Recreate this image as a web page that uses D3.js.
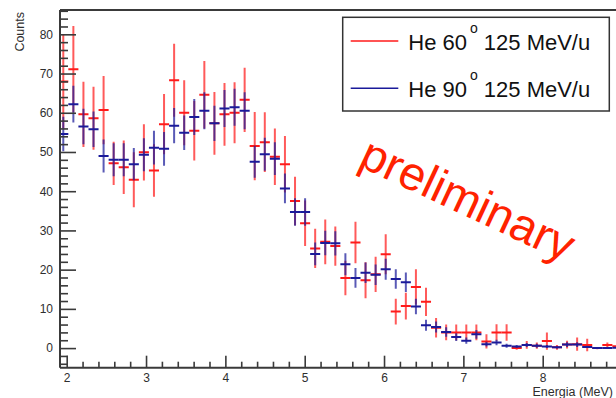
<!DOCTYPE html>
<html>
<head>
<meta charset="utf-8">
<script src="https://cdn.jsdelivr.net/npm/d3@7"></script>
<style>
  html, body { margin: 0; padding: 0; background: #fff; }
  svg { display: block; font-family: "Liberation Sans", Arial, Helvetica, sans-serif; }
</style>
</head>
<body>
<svg id="chart" width="616" height="398"></svg>
<script>
// Bin centres of the energy histogram (MeV)
const energies = [1.957, 2.084, 2.211, 2.338, 2.465, 2.592, 2.719, 2.846, 2.973, 3.100,
  3.227, 3.354, 3.481, 3.608, 3.735, 3.862, 3.989, 4.116, 4.243, 4.370,
  4.497, 4.624, 4.751, 4.878, 5.005, 5.132, 5.259, 5.386, 5.513, 5.640,
  5.767, 5.894, 6.021, 6.148, 6.275, 6.402, 6.529, 6.656, 6.783, 6.910,
  7.037, 7.164, 7.291, 7.418, 7.545, 7.672, 7.799, 7.926, 8.053, 8.180,
  8.307, 8.434, 8.561, 8.688, 8.815, 8.942];
const binWidth = 0.127;

// He 60° 125 MeV/u counts and errors
const counts60 = [68, 71.1, 59.6, 58.6, 60.7, 47.1, 46.1, 42.9, 49.9, 45.3,
  57.1, 68.3, 60.0, 55.4, 64.6, 57.3, 59.6, 60.0, 63.3, 51.5,
  52.5, 48.8, 46.9, 37.5, 31.8, 25.4, 27.1, 26.0, 17.9, 26.9,
  17.3, 18.8, 23.9, 9.3, 10.7, 15.6, 11.8, 5.2, 4.0, 4.0,
  4.0, 4.0, 1.7, 4.0, 4.0, 0.0, 0.8, 0.6, 1.8, 0.2,
  0.9, 1.0, 0.8, 0.0, 0.8, 0.5];
const errors60 = [12, 11, 8.3, 8, 8.7, 5.5, 6.8, 7, 7.2, 6.7,
  7.7, 9.3, 8.3, 7.6, 8.6, 8, 8, 7.8, 8.2, 8.7,
  7.6, 7.2, 7.2, 6.2, 5.8, 5, 5.7, 5, 4.4, 5.3,
  4.6, 4.5, 5.1, 3.3, 3.4, 4.5, 3.6, 2.5, 2, 2,
  2, 2, 1.8, 2.1, 2.1, 0.4, 1, 0.8, 2.2, 0.6,
  1, 1.7, 1.6, 0.3, 0.6, 0.6];

// He 90° 125 MeV/u counts and errors
const counts90 = [54.6, 62.2, 56.5, 55.8, 49.0, 48.0, 48.0, 46.9, 49.3, 51.1,
  50.8, 56.7, 54.9, 58.9, 60.5, 57.3, 61.1, 61.4, 60.5, 47.5,
  49.4, 48.3, 40.7, 34.7, 34.7, 24.0, 26.8, 26.7, 21.4, 17.9,
  19.2, 18.7, 20.1, 17.6, 16.8, 10.6, 5.8, 5.4, 4.1, 2.8,
  1.9, 3.5, 1.0, 1.4, 0.6, 0.4, 0.8, 0.6, 0.4, 0.2,
  0.9, 0.9, 0.3, 0.0, 0.0, 0.1];
const errors90 = [4.4, 4.7, 4.5, 4.5, 4.2, 4.2, 4.2, 4.1, 4.2, 4.3,
  4.3, 4.5, 4.4, 4.6, 4.7, 4.5, 4.7, 4.7, 4.7, 4.1,
  4.2, 4.2, 3.8, 3.5, 3.5, 2.9, 3.1, 3.1, 2.8, 2.5,
  2.6, 2.6, 2.7, 2.5, 2.5, 2.0, 1.4, 1.4, 1.2, 1.0,
  0.8, 1.1, 0.6, 0.7, 0.5, 0.4, 0.5, 0.5, 0.4, 0.3,
  0.6, 0.6, 0.3, 0, 0, 0.2];

const xTicks = [2, 3, 4, 5, 6, 7, 8];
const yTicks = [0, 10, 20, 30, 40, 50, 60, 70, 80];
const seriesNames = ["He 60", "He 90"];
const seriesUnit = "125 MeV/u";

const svg = d3.select("#chart");
const frame = { left: 60, top: 10, right: 616, bottom: 367.7 };

const x = d3.scaleLinear().domain([2, 8]).range([66.7, 542.7]);
const y = d3.scaleLinear().domain([-5, 86.2]).range([frame.bottom, frame.top]);

svg.append("defs").append("clipPath").attr("id", "plotClip")
  .append("rect")
  .attr("x", frame.left).attr("y", frame.top)
  .attr("width", frame.right - frame.left).attr("height", frame.bottom - frame.top);

const plot = svg.append("g").attr("clip-path", "url(#plotClip)");

function drawSeries(values, errs, color) {
  const rows = energies.map((e, i) => ({ e, v: values[i], s: errs[i] }));
  const g = plot.append("g");
  g.selectAll("line.v").data(rows).join("line")
    .attr("class", "v")
    .attr("x1", d => x(d.e)).attr("x2", d => x(d.e))
    .attr("y1", d => y(d.v + d.s)).attr("y2", d => y(d.v - d.s))
    .attr("stroke", color).attr("stroke-width", 2).attr("stroke-opacity", 0.72);
  g.selectAll("line.h").data(rows).join("line")
    .attr("class", "h")
    .attr("x1", d => x(d.e - binWidth / 2)).attr("x2", d => x(d.e + binWidth / 2))
    .attr("y1", d => y(d.v)).attr("y2", d => y(d.v))
    .attr("stroke", color).attr("stroke-width", 2);
}

drawSeries(counts60, errors60, "#ff1a1a");
drawSeries(counts90, errors90, "#1a1a9a");

// "preliminary" stamp
svg.append("text")
  .attr("transform", "translate(468,199) rotate(25)")
  .attr("text-anchor", "middle")
  .attr("dy", "0.35em")
  .attr("font-size", 47)
  .attr("fill", "#ff2200")
  .text("preliminary");

// Axes
const axisColor = "#3a3a3a";
const yMinor = d3.range(-4, 87, 2).filter(v => v % 10 !== 0);
const xMinor = d3.range(1.8, 9.01, 0.2).map(v => +v.toFixed(1)).filter(v => Math.abs(v - Math.round(v)) > 1e-6 && v > 1.92);

const yAxisG = svg.append("g").attr("transform", `translate(${frame.left},0)`);
yAxisG.call(d3.axisLeft(y).tickValues(yTicks).tickSizeInner(-16).tickSizeOuter(0).tickPadding(7).tickFormat(d3.format("d")));
yAxisG.append("g").call(d3.axisLeft(y).tickValues(yMinor).tickSizeInner(-8).tickSizeOuter(0).tickFormat(""))
  .select(".domain").remove();

const xAxisG = svg.append("g").attr("transform", `translate(0,${frame.bottom})`);
xAxisG.call(d3.axisBottom(x).tickValues(xTicks).tickSizeInner(-12).tickSizeOuter(0).tickPadding(6).tickFormat(d3.format("d")));
xAxisG.append("g").call(d3.axisBottom(x).tickValues(xMinor).tickSizeInner(-6).tickSizeOuter(0).tickFormat(""))
  .select(".domain").remove();

xAxisG.select(".domain").attr("d", `M${frame.left},0H${frame.right}`);
yAxisG.select(".domain").attr("d", `M0,${frame.top}V${frame.bottom}`);

svg.selectAll(".domain").attr("stroke", axisColor).attr("stroke-width", 2);
svg.selectAll(".tick line").attr("stroke", axisColor).attr("stroke-width", 1.6);
svg.selectAll(".tick text").attr("fill", "#2e2e2e").attr("font-size", 12)
  .attr("font-family", "Liberation Sans, Arial, sans-serif");

// Top frame edge
svg.append("line")
  .attr("x1", frame.left).attr("x2", frame.right)
  .attr("y1", frame.top).attr("y2", frame.top)
  .attr("stroke", axisColor).attr("stroke-width", 2);

// Axis titles
svg.append("text")
  .attr("transform", `translate(24,${frame.top + 2}) rotate(-90)`)
  .attr("text-anchor", "end")
  .attr("font-size", 12.5)
  .attr("fill", "#2e2e2e")
  .text("Counts");

svg.append("text")
  .attr("x", 613).attr("y", 396)
  .attr("text-anchor", "end")
  .attr("font-size", 12.5)
  .attr("fill", "#2e2e2e")
  .text("Energia (MeV)");

// Legend
const legend = svg.append("g");
legend.append("rect")
  .attr("x", 342.7).attr("y", 17.3).attr("width", 266.6).attr("height", 93.7)
  .attr("fill", "#fff").attr("stroke", "#333").attr("stroke-width", 1.5);

const legendRows = [
  { name: seriesNames[0], color: "#ff1a1a", cy: 41, base: 50 },
  { name: seriesNames[1], color: "#1a1a9a", cy: 88.3, base: 96.7 }
];
legendRows.forEach(r => {
  legend.append("line")
    .attr("x1", 350.7).attr("x2", 398.3).attr("y1", r.cy).attr("y2", r.cy)
    .attr("stroke", r.color).attr("stroke-width", 1.5);
  const t = legend.append("text")
    .attr("x", 408.3).attr("y", r.base)
    .attr("font-size", 22).attr("fill", "#111");
  t.append("tspan").text(r.name);
  t.append("tspan").attr("font-size", 14).attr("dx", 3).attr("dy", -17).text("o");
  t.append("tspan").attr("dy", 17).attr("dx", 6).text(seriesUnit);
});
</script>
</body>
</html>
